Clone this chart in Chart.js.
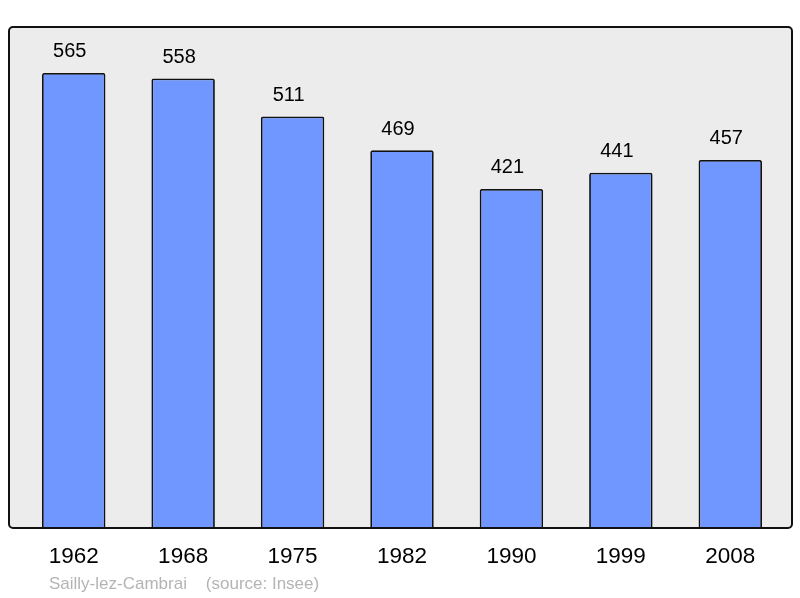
<!DOCTYPE html>
<html>
<head>
<meta charset="utf-8">
<script src="https://cdn.jsdelivr.net/npm/chart.js@4/dist/chart.umd.min.js"></script>
<style>
  html, body { margin: 0; padding: 0; background: #fff; }
  #wrap { width: 800px; height: 598px; }
</style>
</head>
<body>
<div id="wrap"><canvas id="myChart" width="800" height="598"></canvas></div>
<script>
const years = ['1962', '1968', '1975', '1982', '1990', '1999', '2008'];
const population = [565, 558, 511, 469, 421, 441, 457];
const footerText = 'Sailly-lez-Cambrai    (source: Insee)';

// frame behind the bars, value labels, year labels, footer
const decor = {
  id: 'decor',
  beforeDatasetsDraw(chart) {
    const ctx = chart.ctx;
    const a = chart.chartArea;
    ctx.save();
    ctx.beginPath();
    ctx.roundRect(9, 27, 783, a.bottom - 27, 4);
    ctx.fillStyle = '#ececec';
    ctx.fill();
    ctx.restore();
  },
  afterDatasetsDraw(chart) {
    const ctx = chart.ctx;
    const a = chart.chartArea;
    const meta = chart.getDatasetMeta(0);
    const xs = chart.scales.x;
    ctx.save();
    ctx.beginPath();
    ctx.roundRect(9, 27, 783, a.bottom - 27, 4);
    ctx.lineWidth = 2;
    ctx.strokeStyle = '#111';
    ctx.stroke();

    ctx.fillStyle = '#000';
    ctx.textAlign = 'center';
    ctx.textBaseline = 'middle';
    ctx.font = '20px "Liberation Sans", Arial, sans-serif';
    meta.data.forEach((bar, i) => {
      ctx.fillText(String(population[i]), bar.x - 4, bar.y - 21);
    });

    ctx.font = '22.5px "Liberation Sans", Arial, sans-serif';
    years.forEach((y, i) => {
      ctx.fillText(y, xs.getPixelForValue(i), 557);
    });

    ctx.textAlign = 'left';
    ctx.fillStyle = '#b4b4b4';
    ctx.font = '17px "Liberation Sans", Arial, sans-serif';
    ctx.fillText(footerText, 49, 584);
    ctx.restore();
  }
};

new Chart(document.getElementById('myChart'), {
  type: 'bar',
  data: {
    labels: years,
    datasets: [{
      data: population,
      backgroundColor: '#7097ff',
      borderColor: '#111',
      borderWidth: 1.8,
      borderRadius: 2,
      borderSkipped: 'bottom',
      barPercentage: 0.58,
      categoryPercentage: 1
    }]
  },
  options: {
    responsive: false,
    animation: false,
    layout: { padding: { left: 19, right: 15, top: 27, bottom: 70 } },
    plugins: { legend: { display: false }, tooltip: { enabled: false } },
    scales: {
      x: { display: false },
      y: { display: false, min: 0, max: 622 }
    }
  },
  plugins: [decor]
});
</script>
</body>
</html>
